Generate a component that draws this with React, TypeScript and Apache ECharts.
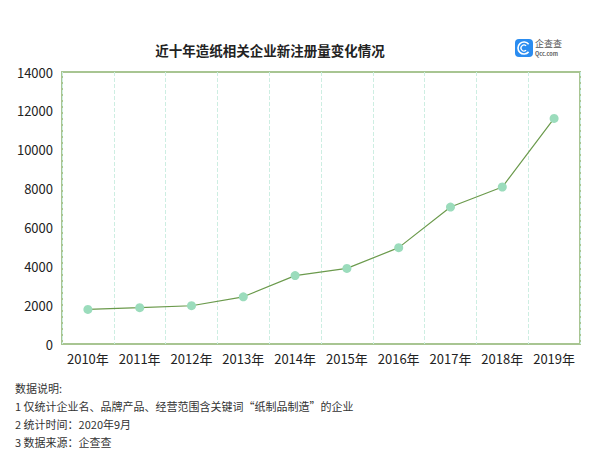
import React, { useEffect, useRef } from "react";
import * as echarts from "echarts";

const categories = ["2010年", "2011年", "2012年", "2013年", "2014年", "2015年", "2016年", "2017年", "2018年", "2019年"];
const values = [1780, 1870, 1970, 2430, 3520, 3890, 4960, 7050, 8080, 11610];
const yMin = 0;
const yMax = 14000;
const yInterval = 2000;
const titleText = "近十年造纸相关企业新注册量变化情况";
const notes = [
  "数据说明:",
  "1 仅统计企业名、品牌产品、经营范围含关键词“纸制品制造”的企业",
  "2 统计时间：2020年9月",
  "3 数据来源：企查查",
];

const FONT = "'Noto Sans CJK SC', 'Noto Sans', sans-serif";

export default function App() {
  const ref = useRef<HTMLDivElement>(null);
  useEffect(() => {
    if (!ref.current) return;
    const chart = echarts.init(ref.current, undefined, { renderer: "svg" });
    const noteGraphics = notes.map((t, i) => ({
      type: "text",
      left: 15,
      top: 382 + i * 18.3,
      style: { text: t, font: `11px ${FONT}`, fill: "#333" },
    }));
    chart.setOption({
      animation: false,
      backgroundColor: "#ffffff",
      textStyle: { fontFamily: FONT },
      title: {
        text: titleText,
        left: 265,
        top: 38,
        textAlign: "center",
        textStyle: { fontSize: 13.5, fontWeight: "bold", color: "#222", fontFamily: FONT },
      },
      grid: {
        left: 62,
        right: 24,
        top: 72,
        bottom: 111,
        show: true,
        borderColor: "#a8c592",
        borderWidth: 2,
        backgroundColor: "transparent",
      },
      xAxis: {
        type: "category",
        data: categories,
        boundaryGap: true,
        axisLine: { show: false },
        axisTick: { show: false },
        axisLabel: { color: "#222", fontSize: 13, margin: 8, interval: 0, fontFamily: FONT },
        splitLine: { show: true, interval: 0, lineStyle: { color: "#cdeee2", type: "dashed", width: 1 } },
      },
      yAxis: {
        type: "value",
        min: yMin,
        max: yMax,
        interval: yInterval,
        axisLine: { show: false },
        axisTick: { show: false },
        axisLabel: { color: "#222", fontSize: 13, margin: 9, fontFamily: FONT, formatter: (v: number) => String(v) },
        splitLine: { show: false },
      },
      series: [
        {
          type: "line",
          data: values,
          symbol: "circle",
          symbolSize: 9,
          itemStyle: { color: "#9bdcbc" },
          lineStyle: { color: "#6b9a4c", width: 1.2 },
        },
      ],
      graphic: [
        {
          type: "rect",
          shape: { x: 515, y: 39, width: 18, height: 18, r: 4 },
          style: { fill: "#2a8cf0" },
        },
        {
          type: "arc",
          shape: { cx: 524, cy: 48, r: 6, startAngle: 0.7, endAngle: 5.6 },
          style: { stroke: "#ffffff", lineWidth: 1.6, fill: "none" },
        },
        {
          type: "arc",
          shape: { cx: 524, cy: 48, r: 3, startAngle: 0.8, endAngle: 5.5 },
          style: { stroke: "#ffffff", lineWidth: 1.3, fill: "none" },
        },
        {
          type: "text",
          left: 535,
          top: 39,
          style: { text: "企查查", font: `9px ${FONT}`, fill: "#555" },
        },
        {
          type: "text",
          left: 535,
          top: 51,
          style: { text: "Qcc.com", font: `bold 5.5px ${FONT}`, fill: "#666" },
        },
        ...noteGraphics,
      ],
    });
    return () => chart.dispose();
  }, []);
  return <div ref={ref} style={{ width: 604, height: 455, position: "absolute", left: 0, top: 0 }} />;
}
